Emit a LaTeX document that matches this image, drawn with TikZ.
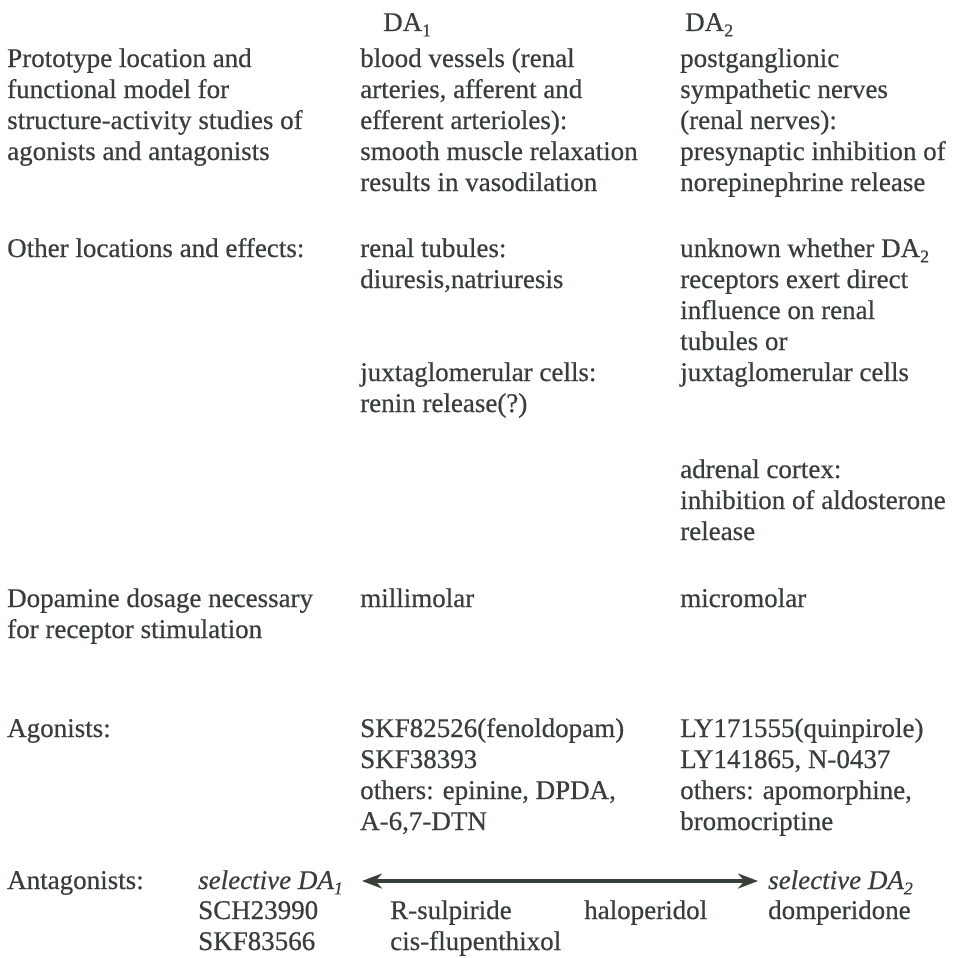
\documentclass[tikz,border=0pt]{standalone}
\usepackage{fontspec}
\setmainfont{Liberation Serif}[FakeBold=0.5]
\usetikzlibrary{arrows.meta}
\definecolor{ink}{RGB}{56,63,57}
\newcommand\sbs[1]{\raisebox{-0.2em}{\fontsize{18}{18}\selectfont #1}}
\newcommand\txtlines[4]{%
  \foreach \t [count=\i from 0] in {#4} {%
    \node[txt] (#1-\i) at (#2, {-(#3+31*\i)}) {\t};}}
\begin{document}
\begin{tikzpicture}[x=1pt,y=1pt,
  txt/.style={anchor=base west, inner sep=0pt, text=ink, font=\fontsize{27}{31}\selectfont},
  dblarrow/.style={draw=ink, line width=3.8pt, {Stealth[length=20pt,width=15pt]}-{Stealth[length=20pt,width=15pt]}}]
\useasboundingbox[fill=white] (0,0) rectangle (954,-958);
% headers
\node[txt] (h1) at (383,-31) {DA\sbs{1}};
\node[txt] (h2) at (685,-31) {DA\sbs{2}};
% row 1
\txtlines{l1}{7}{67}{{Prototype location and},{functional model for},{structure-activity studies of},{agonists and antagonists}}
\txtlines{a1}{360}{67}{{blood vessels (renal},{arteries, afferent and},{efferent arterioles):},{smooth muscle relaxation},{results in vasodilation}}
\txtlines{b1}{680}{67}{{postganglionic},{sympathetic nerves},{(renal nerves):},{presynaptic inhibition of},{norepinephrine release}}
% row 2
\txtlines{l2}{7}{257}{{Other locations and effects:}}
\txtlines{a2}{360}{257}{{renal tubules:},{diuresis,natriuresis}}
\txtlines{a3}{360}{381}{{juxtaglomerular cells:},{renin release(?)}}
\txtlines{b2}{680}{257}{{unknown whether DA\sbs{2}},{receptors exert direct},{influence on renal},{tubules or},{juxtaglomerular cells}}
\txtlines{b3}{680}{478}{{adrenal cortex:},{inhibition of aldosterone},{release}}
% row 3
\txtlines{l3}{7}{607}{{Dopamine dosage necessary},{for receptor stimulation}}
\txtlines{a4}{360}{607}{{millimolar}}
\txtlines{b4}{680}{607}{{micromolar}}
% row 4
\txtlines{l4}{7}{737}{{Agonists:}}
\txtlines{a5}{360}{737}{{SKF82526(fenoldopam)},{SKF38393},{others: epinine, DPDA,},{A-6,7-DTN}}
\txtlines{b5}{680}{737}{{LY171555(quinpirole)},{LY141865, N-0437},{others: apomorphine,},{bromocriptine}}
% row 5
\node[txt] (l5) at (7,-889) {Antagonists:};
\node[txt] (s1) at (198,-889) {\itshape selective DA\sbs{1}};
\node[txt] (s2) at (768,-889) {\itshape selective DA\sbs{2}};
\txtlines{c1}{198}{919}{{SCH23990},{SKF83566}}
\txtlines{c2}{390}{919}{{R-sulpiride},{cis-flupenthixol}}
\node[txt] (c3) at (584,-919) {haloperidol};
\node[txt] (c4) at (768,-919) {domperidone};
\coordinate (aL) at (362,-881);
\coordinate (aR) at (758,-881);
\draw[dblarrow] (aL) -- (aR);
\end{tikzpicture}
\end{document}
